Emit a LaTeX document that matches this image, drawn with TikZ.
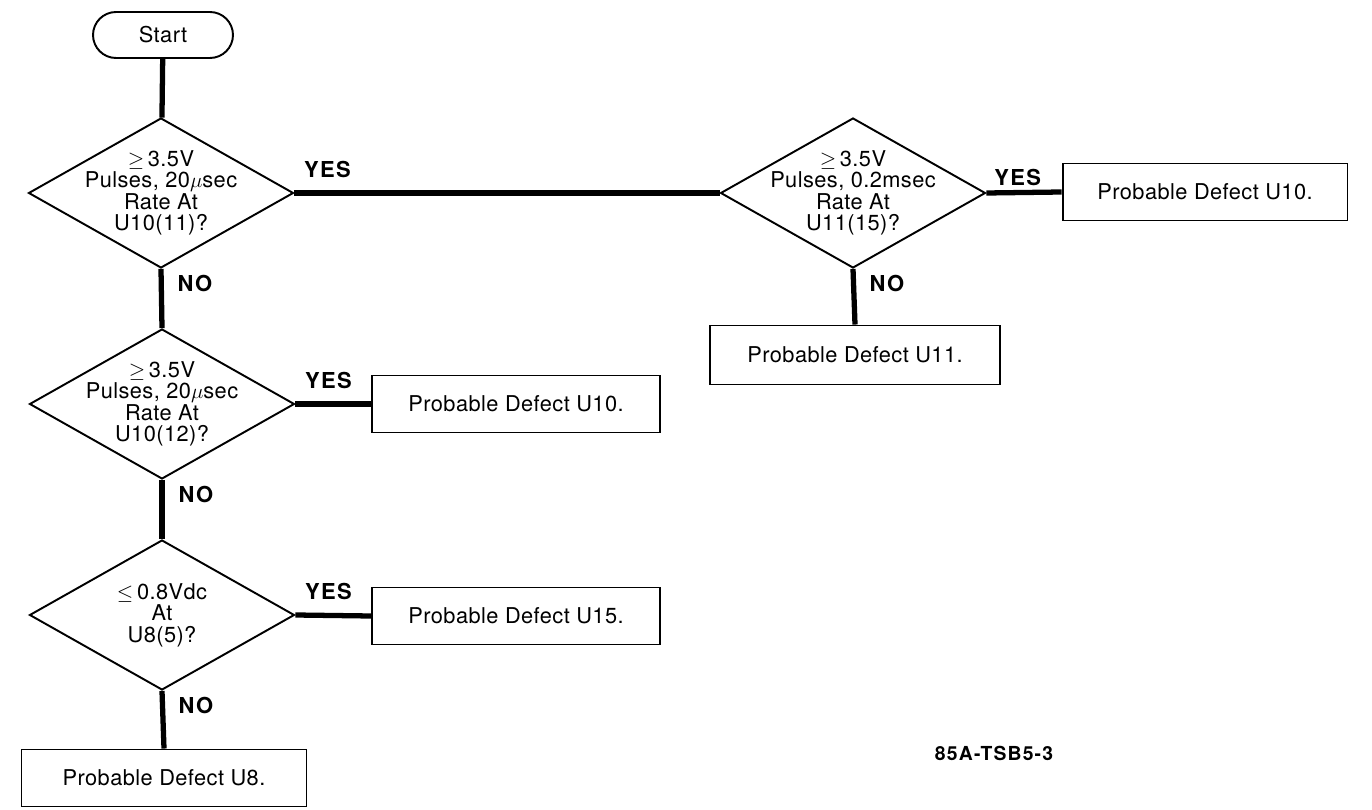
\documentclass[tikz,border=0pt]{standalone}
\usepackage{fontspec}
\setmainfont{TeX Gyre Heros}[LetterSpace=2]
\newfontfamily\ansfont{TeX Gyre Heros}[LetterSpace=6]
\usepackage{tikz}
\usetikzlibrary{shapes.geometric,positioning}

\begin{document}
\begin{tikzpicture}[x=0.02cm,y=-0.02cm,
          term/.style={draw,rounded corners=0.46cm,line width=1.1pt,
                       minimum width=2.8cm,minimum height=0.92cm,
                       font=\fontsize{12.4}{14}\selectfont},
          dec/.style={draw,diamond,line width=1.1pt,inner sep=0pt,
                      minimum width=5.3cm,minimum height=3cm},
          dtxt/.style={font=\fontsize{12.4}{12.2}\selectfont,align=center,inner sep=0pt},
          box/.style={draw,line width=1.1pt,minimum width=5.76cm,minimum height=1.14cm,
                      font=\fontsize{12.4}{14}\selectfont},
          flow/.style={line width=3pt},
          ans/.style={font=\ansfont\fontsize{12.5}{13}\selectfont\bfseries,inner sep=2pt}]
        \useasboundingbox (0,0) rectangle (1372,810);
        \node[term] (start) at (163,35) {Start};
        \node[dec] (d1) at (161,193) {};
        \node[dtxt] (d1t) at (d1) {$\geq$\,3.5V\\Pulses, 20$\mu$sec\\Rate At\\U10(11)?};
        \node[dec] (d2) at (162,404) {};
        \node[dtxt] (d2t) at (d2) {$\geq$\,3.5V\\Pulses, 20$\mu$sec\\Rate At\\U10(12)?};
        \node[dec] (d3) at (162,615) {};
        \node[dtxt] (d3t) at (d3) {$\leq$\,0.8Vdc\\At\\U8(5)?};
        \node[dec] (d4) at (853,193) {};
        \node[dtxt] (d4t) at (d4) {$\geq$\,3.5V\\Pulses, 0.2msec\\Rate At\\U11(15)?};
        \node[box] (b1) at (516,404) {Probable Defect U10.};
        \node[box] (b2) at (516,616) {Probable Defect U15.};
        \node[box,minimum width=5.7cm] (b3) at (164,778) {Probable Defect U8.};
        \node[box,minimum width=5.7cm] (b4) at (1205,192) {Probable Defect U10.};
        \node[box,minimum width=5.8cm,minimum height=1.18cm] (b5) at (855,355) {Probable Defect U11.};
        \node[font=\ansfont\fontsize{11}{12}\selectfont\bfseries] (fig) at (994,753) {85A-TSB5-3};
        \draw[flow] (start) -- (d1);
        \draw[flow] (d1.east) -- node[ans,anchor=south west,pos=0,xshift=2pt,yshift=5pt] {YES} (d4.west);
        \draw[flow] (d1.south) -- node[ans,anchor=north west,pos=0,xshift=6pt] {NO} (d2.north);
        \draw[flow] (d2.east) -- node[ans,anchor=south west,pos=0,xshift=2pt,yshift=5pt] {YES} (b1.west);
        \draw[flow] (d2.south) -- node[ans,anchor=north west,pos=0,xshift=6pt] {NO} (d3.north);
        \draw[flow] (d3.east) -- node[ans,anchor=south west,pos=0,xshift=2pt,yshift=5pt] {YES} (b2.west);
        \draw[flow] (d3.south) -- node[ans,anchor=north west,pos=0,xshift=6pt] {NO} (b3.north);
        \draw[flow] (d4.east) -- node[ans,anchor=south west,pos=0,xshift=1pt,yshift=0.5pt] {YES} (b4.west);
        \draw[flow] (d4.south) -- node[ans,anchor=north west,pos=0,xshift=6pt] {NO} (b5.north);
      \end{tikzpicture}
\end{document}
